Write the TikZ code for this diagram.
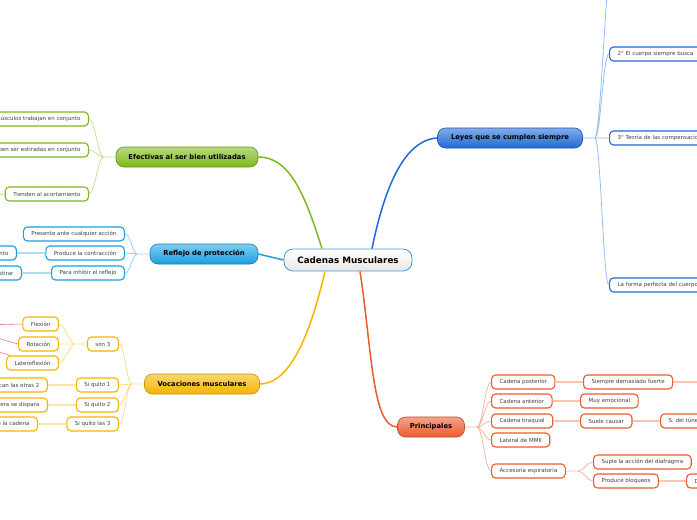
\documentclass[tikz,border=0pt]{standalone}
\usepackage{fontspec}
\setmainfont{DejaVu Sans}
\usepackage{tikz}
\usepackage{xcolor}
\definecolor{rootblue}{RGB}{70,150,215}
\definecolor{leyesblue}{RGB}{30,105,215}
\definecolor{effgreen}{RGB}{125,185,25}
\definecolor{reflcyan}{RGB}{25,160,225}
\definecolor{vocyellow}{RGB}{245,180,0}
\definecolor{prinred}{RGB}{235,90,45}
\definecolor{crosspink}{RGB}{225,120,145}

\begin{document}
\begin{tikzpicture}[x=1pt,y=-1pt,
  leaf/.style={draw=#1, line width=1.1pt, rounded corners=4pt, fill=white,
    minimum height=14pt, inner xsep=8pt, inner ysep=0pt, text=black!75,
    font=\fontsize{5.5}{6}\selectfont},
  topic/.style={draw=#1!80!black, line width=0.6pt, rounded corners=8pt,
    top color=#1!55, bottom color=#1, minimum height=20pt,
    font=\fontsize{6.8}{8}\selectfont\bfseries},
  trunk/.style={draw=#1, line width=1.5pt},
  rtwig/.style={draw=#1!45, line width=0.8pt,
    to path={-- ++(12,0) .. controls +(6,0) and +(-6,0) .. (\tikztotarget)}},
  ltwig/.style={draw=#1!45, line width=0.8pt,
    to path={-- ++(-12,0) .. controls +(-6,0) and +(6,0) .. (\tikztotarget)}},
  link/.style={draw=#1!35, line width=1.3pt}]
  \useasboundingbox (0,0) rectangle (697,520);
  \clip (0,0) rectangle (697,520);

  % Centre and main topics
  \node[draw=rootblue, line width=0.8pt, rounded corners=9pt, top color=white,
    bottom color=gray!18, minimum width=128pt, minimum height=22pt,
    font=\fontsize{8.8}{10}\selectfont\bfseries] (root) at (348,260) {Cadenas Musculares};
  \node[topic=leyesblue, minimum width=145pt] (leyes) at (510,138) {Leyes que se cumplen siempre};
  \node[topic=effgreen, minimum width=142pt] (efect) at (187,157) {Efectivas al ser bien utilizadas};
  \node[topic=reflcyan, minimum width=108pt] (refl) at (204,254) {Reflejo de protección};
  \node[topic=vocyellow, minimum width=115pt] (voc) at (202,384) {Vocaciones musculares};
  \node[topic=prinred, minimum width=67pt] (prin) at (431,427) {Principales};

  \draw[trunk=leyesblue] ([xshift=24pt]root.north) .. controls (385,185) and (405,140) .. (leyes.west);
  \draw[trunk=effgreen] ([xshift=-26pt]root.north) .. controls (305,195) and (290,157) .. (efect.east);
  \draw[trunk=reflcyan] (refl.east) -- (root.west);
  \draw[trunk=vocyellow] ([xshift=-23pt]root.south) .. controls (310,335) and (290,384) .. (voc.east);
  \draw[trunk=prinred] ([xshift=12pt]root.south) .. controls (372,350) and (372,427) .. (prin.west);

  % Leyes que se cumplen siempre
  \coordinate (ley1) at (612,-40);
  \node[leaf=leyesblue, anchor=west, text width=110pt, align=left] (ley2) at (609,54) {2° El cuerpo siempre busca};
  \node[leaf=leyesblue, anchor=west, text width=110pt, align=left] (ley3) at (609,138) {3° Teoría de las compensaciones};
  \node[leaf=leyesblue, anchor=west, text width=110pt, align=left] (ley4) at (609,285) {La forma perfecta del cuerpo};
  \draw[rtwig=leyesblue] (leyes.east) to (ley1) (leyes.east) to (ley2.west)
    (leyes.east) to (ley3.west) (leyes.east) to (ley4.west);

  % Efectivas al ser bien utilizadas
  \node[leaf=effgreen, anchor=east] (efe1) at (89,119) {Los músculos trabajan en conjunto};
  \node[leaf=effgreen, anchor=east] (efe2) at (89,150) {Deben ser estiradas en conjunto};
  \node[leaf=effgreen, anchor=east] (efe3) at (89,194) {Tienden al acortamiento};
  \coordinate (efe3x) at (-20,196);
  \draw[ltwig=effgreen] (efect.west) to (efe1.east) (efect.west) to (efe2.east)
    (efect.west) to (efe3.east);
  \draw[link=effgreen] (efe3.west) -- (efe3x);

  % Reflejo de proteccion
  \node[leaf=reflcyan, anchor=east] (ref1) at (125,234) {Presente ante cualquier acción};
  \node[leaf=reflcyan, anchor=east] (ref2) at (125,253) {Produce la contracción};
  \node[leaf=reflcyan, anchor=east] (ref3) at (125,273) {Para inhibir el reflejo};
  \node[leaf=reflcyan, anchor=east] (ref2a) at (17,253) {Movimiento};
  \node[leaf=reflcyan, anchor=east] (ref3a) at (22,273) {Al estirar};
  \draw[ltwig=reflcyan] (refl.west) to (ref1.east) (refl.west) to (ref2.east)
    (refl.west) to (ref3.east);
  \draw[link=reflcyan] (ref2.west) -- (ref2a.east) (ref3.west) -- (ref3a.east);

  % Vocaciones musculares
  \node[leaf=vocyellow, anchor=east] (son) at (119,344) {son 3};
  \node[leaf=vocyellow, anchor=east] (flex) at (59,324) {Flexión};
  \node[leaf=vocyellow, anchor=east] (rot) at (59,344) {Rotación};
  \node[leaf=vocyellow, anchor=east] (lat) at (59,363) {Lateroflexión};
  \node[leaf=vocyellow, anchor=east] (q1) at (119,385) {Si quito 1};
  \node[leaf=vocyellow, anchor=east] (q2) at (119,405) {Si quito 2};
  \node[leaf=vocyellow, anchor=east] (q3) at (119,424) {Si quito las 3};
  \node[leaf=vocyellow, anchor=east] (q1a) at (48,385) {Se intensifican las otras 2};
  \node[leaf=vocyellow, anchor=east] (q2a) at (48,405) {La tercera se dispara};
  \node[leaf=vocyellow, anchor=east] (q3a) at (38,424) {Desaparece la cadena};
  \draw[ltwig=vocyellow] (voc.west) to (son.east) (voc.west) to (q1.east)
    (voc.west) to (q2.east) (voc.west) to (q3.east);
  \draw[ltwig=vocyellow] (son.west) to (flex.east) (son.west) to (rot.east)
    (son.west) to (lat.east);
  \draw[link=vocyellow] (q1.west) -- (q1a.east) (q2.west) -- (q2a.east) (q3.west) -- (q3a.east);
  \coordinate (flexx) at (-20,325);
  \coordinate (rotx) at (-20,333);
  \coordinate (latx) at (-20,346);
  \draw[crosspink, line width=0.6pt] (flex.west) -- (flexx) (rot.west) -- (rotx)
    ([xshift=4pt]lat.north west) -- (latx);

  % Principales
  \node[leaf=prinred, anchor=west] (cp) at (491,382) {Cadena posterior};
  \node[leaf=prinred, anchor=west] (ca) at (491,401) {Cadena anterior};
  \node[leaf=prinred, anchor=west] (cb) at (491,421) {Cadena braquial};
  \node[leaf=prinred, anchor=west] (cl) at (491,440) {Lateral de MMII};
  \node[leaf=prinred, anchor=west] (ce) at (491,471) {Accesoria espiratoria};
  \node[leaf=prinred, anchor=west] (cpa) at (583,382) {Siempre demasiado fuerte};
  \node[leaf=prinred, anchor=west] (caa) at (580,401) {Muy emocional};
  \node[leaf=prinred, anchor=west] (cba) at (580,421) {Suele causar};
  \node[leaf=prinred, anchor=west] (cbb) at (660,421) {S. del túnel carpiano};
  \node[leaf=prinred, anchor=west] (ce1) at (593,462) {Suple la acción del diafragma};
  \node[leaf=prinred, anchor=west] (ce2) at (593,481) {Produce bloqueos};
  \node[leaf=prinred, anchor=west] (ce2a) at (686,481) {Dolor};
  \coordinate (cpax) at (720,382);
  \draw[rtwig=prinred] (prin.east) to (cp.west) (prin.east) to (ca.west)
    (prin.east) to (cb.west) (prin.east) to (cl.west) (prin.east) to (ce.west);
  \draw[rtwig=prinred] (ce.east) to (ce1.west) (ce.east) to (ce2.west);
  \draw[link=prinred] (cp.east) -- (cpa.west) (cpa.east) -- (cpax)
    (ca.east) -- (caa.west) (cb.east) -- (cba.west) (cba.east) -- (cbb.west)
    (ce2.east) -- (ce2a.west);
\end{tikzpicture}
\end{document}
